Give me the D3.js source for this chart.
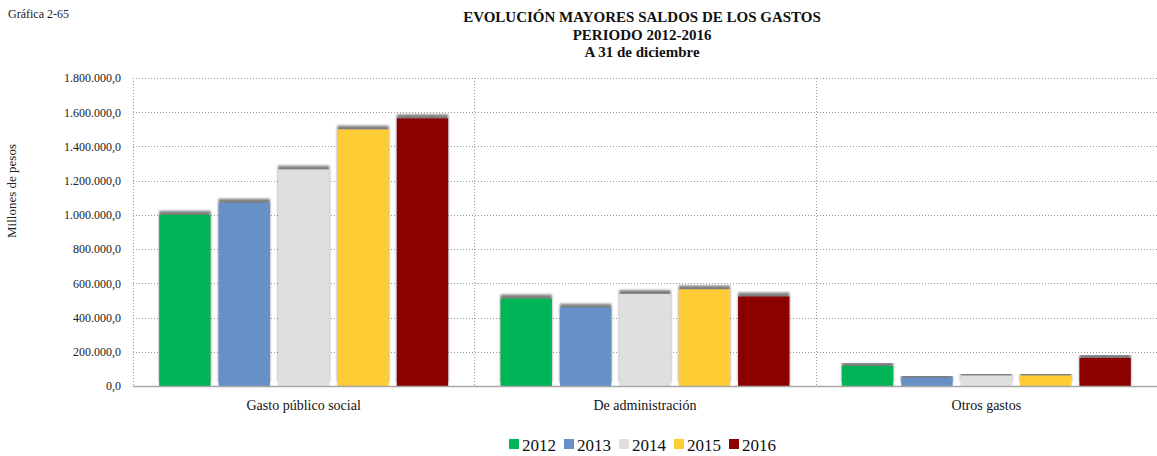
<!DOCTYPE html>
<html>
<head>
<meta charset="utf-8">
<script src="https://cdn.jsdelivr.net/npm/d3@7"></script>
<style>
  html, body { margin: 0; padding: 0; background: #fff; }
  svg { display: block; font-family: "Liberation Serif", "Times New Roman", serif; }
</style>
</head>
<body>
<svg id="chart" width="1157" height="456"></svg>
<script>
// Gastos por concepto, millones de pesos
const categories = ["Gasto público social", "De administración", "Otros gastos"];
const years = ["2012", "2013", "2014", "2015", "2016"];
const values2012 = [1001000, 512000, 117000];
const values2013 = [1072000, 458000, 49000];
const values2014 = [1265000, 538000, 61000];
const values2015 = [1499000, 565000, 61000];
const values2016 = [1565000, 524000, 164000];
const yTicks = [0, 200000, 400000, 600000, 800000, 1000000, 1200000, 1400000, 1600000, 1800000];
const colors = ["#00b558", "#6690c6", "#e0dfe0", "#fecd34", "#8c0000"];

const series = [values2012, values2013, values2014, values2015, values2016];

const svg = d3.select("#chart");
const plotLeft = 133, plotRight = 1157, plotTop = 78, plotBottom = 386;

const locale = d3.formatLocale({ decimal: ",", thousands: ".", grouping: [3], currency: ["$", ""] });
const fmt = locale.format(",.1f");

const y = d3.scaleLinear().domain([0, 1800000]).range([plotBottom, plotTop]);
const x0 = d3.scaleBand().domain(categories).range([plotLeft, plotRight]);
const x1 = d3.scaleBand().domain(years).range([0, x0.bandwidth()])
  .paddingInner(0.133).paddingOuter(0.44);

// Bar shadow: grey band above each bar
const defs = svg.append("defs");
const f = defs.append("filter").attr("id", "barShadow")
  .attr("x", "-10%").attr("y", "-10%").attr("width", "120%").attr("height", "120%");
f.append("feDropShadow").attr("dx", 0).attr("dy", -3.8).attr("stdDeviation", 1.2)
  .attr("flood-color", "#6e6e6e").attr("flood-opacity", 0.9);

// Headers
svg.append("text").attr("x", 8).attr("y", 18).attr("font-size", 12).attr("fill", "#222")
  .text("Gráfica  2-65");
const titles = ["EVOLUCIÓN  MAYORES SALDOS DE LOS GASTOS", "PERIODO 2012-2016", "A 31 de diciembre"];
titles.forEach((t, i) => {
  svg.append("text").attr("x", 642).attr("y", 22 + i * 17.5).attr("text-anchor", "middle")
    .attr("font-size", 15).attr("font-weight", "bold").attr("fill", "#111").text(t);
});

// Horizontal gridlines
svg.append("g").selectAll("line").data(yTicks.filter(d => d > 0)).join("line")
  .attr("x1", plotLeft).attr("x2", plotRight)
  .attr("y1", d => Math.round(y(d)) + 0.5).attr("y2", d => Math.round(y(d)) + 0.5)
  .attr("stroke", "#9a9a9a").attr("stroke-width", 1).attr("stroke-dasharray", "1,2");

// Vertical dividers between categories
const dividers = [plotLeft].concat(categories.slice(1).map(c => x0(c)));
svg.append("g").selectAll("line").data(dividers).join("line")
  .attr("x1", d => Math.round(d) + 0.5).attr("x2", d => Math.round(d) + 0.5)
  .attr("y1", plotTop).attr("y2", plotBottom)
  .attr("stroke", "#9a9a9a").attr("stroke-width", 1).attr("stroke-dasharray", "1,2");

// Y axis
const yAxis = d3.axisLeft(y).tickValues(yTicks).tickFormat(fmt).tickSize(0).tickPadding(12);
const ga = svg.append("g").attr("transform", `translate(${plotLeft},0)`).call(yAxis);
ga.select(".domain").remove();
ga.selectAll("text").attr("font-family", "Liberation Serif, serif").attr("font-size", 12).attr("fill", "#222");

svg.append("text").attr("transform", `translate(16,191) rotate(-90)`)
  .attr("text-anchor", "middle").attr("font-size", 13).attr("fill", "#222")
  .text("Millones de pesos");

// Bars
const groups = svg.append("g").selectAll("g").data(categories).join("g")
  .attr("transform", c => `translate(${x0(c)},0)`);
groups.selectAll("rect").data((c, ci) => years.map((yr, si) => ({ yr, si, v: series[si][ci] })))
  .join("rect")
  .attr("x", d => x1(d.yr)).attr("width", x1.bandwidth())
  .attr("y", d => y(d.v)).attr("height", d => plotBottom - y(d.v))
  .attr("fill", d => colors[d.si])
  .attr("filter", "url(#barShadow)");

// Baseline
svg.append("line").attr("x1", plotLeft).attr("x2", plotRight).attr("y1", plotBottom + 0.5).attr("y2", plotBottom + 0.5)
  .attr("stroke", "#a6a6a6").attr("stroke-width", 1.5);

// Category labels
const xAxis = d3.axisBottom(x0).tickSize(0).tickPadding(14);
const gx = svg.append("g").attr("transform", `translate(0,${plotBottom})`).call(xAxis);
gx.select(".domain").remove();
gx.selectAll("text").attr("font-family", "Liberation Serif, serif").attr("font-size", 14).attr("fill", "#111");

// Legend
const legend = svg.append("g").selectAll("g").data(years).join("g")
  .attr("transform", (d, i) => `translate(${509 + i * 55},0)`);
legend.append("rect").attr("x", 0).attr("y", 439).attr("width", 10).attr("height", 10)
  .attr("fill", (d, i) => colors[i]);
legend.append("text").attr("x", 13).attr("y", 451).attr("font-size", 17).attr("fill", "#111")
  .text(d => d);
</script>
</body>
</html>
